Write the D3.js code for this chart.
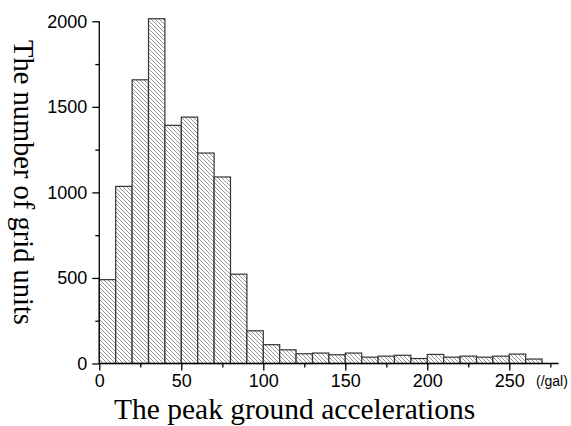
<!DOCTYPE html>
<html><head><meta charset="utf-8">
<script src="https://cdn.jsdelivr.net/npm/d3@7"></script>
<style>html,body{margin:0;padding:0;background:#fff;}svg{display:block;}</style>
</head><body>
<svg id="chart" width="571" height="426"></svg>
<script>
const binStarts = [0,10,20,30,40,50,60,70,80,90,100,110,120,130,140,150,160,170,180,190,200,210,220,230,240,250,260];
const binWidth = 10;
const counts = [490,1035,1658,2015,1392,1440,1230,1090,522,191,110,80,57,61,51,61,37,43,48,29,53,37,43,37,43,55,26];
const xMajorTicks = [0,50,100,150,200,250];
const xMinorTicks = [25,75,125,175,225,275];
const yMajorTicks = [0,500,1000,1500,2000];
const yMinorTicks = [250,750,1250,1750];
const xTitle = "The peak ground accelerations";
const yTitle = "The number of grid units";
const unitLabel = "(/gal)";

const svg = d3.select("#chart");
const x = d3.scaleLinear().domain([0,280]).range([99.3,558.5]);
const y = d3.scaleLinear().domain([0,2000]).range([363.5,21.3]);

const defs = svg.append("defs");
const pat = defs.append("pattern").attr("id","hatch").attr("patternUnits","userSpaceOnUse")
  .attr("width",4).attr("height",4);
pat.append("rect").attr("width",4).attr("height",4).attr("fill","#fff");
pat.append("path").attr("d","M0,0L4,4M-1,3L1,5M3,-1L5,1")
  .attr("stroke","#6a6a6a").attr("stroke-width",0.7).attr("fill","none");

svg.append("g").selectAll("rect").data(counts).join("rect")
  .attr("x",(d,i)=>x(binStarts[i]))
  .attr("width",(d,i)=>x(binStarts[i]+binWidth)-x(binStarts[i]))
  .attr("y",d=>y(d))
  .attr("height",d=>y(0)-y(d))
  .attr("fill","url(#hatch)")
  .attr("stroke","#333").attr("stroke-width",1.2);

const font = "'Liberation Sans', Arial, sans-serif";
// x axis
const gx = svg.append("g").attr("transform",`translate(0,${y(0)})`);
gx.call(d3.axisBottom(x).tickValues(xMajorTicks).tickSize(7).tickPadding(4).tickFormat(d3.format("d")));
gx.append("g").call(d3.axisBottom(x).tickValues(xMinorTicks).tickSize(4).tickFormat(""))
  .select(".domain").remove();
gx.select(".domain").attr("d",`M${x(0)},0H${x(280)}`);
gx.selectAll("path,line").attr("stroke","#000").attr("stroke-width",1.3);
gx.selectAll("text").attr("font-family",font).attr("font-size",18).attr("fill","#000");

// y axis
const gy = svg.append("g").attr("transform",`translate(${x(0)},0)`);
gy.call(d3.axisLeft(y).tickValues(yMajorTicks).tickSize(7).tickPadding(5).tickFormat(d3.format("d")));
gy.append("g").call(d3.axisLeft(y).tickValues(yMinorTicks).tickSize(4).tickFormat(""))
  .select(".domain").remove();
gy.select(".domain").attr("d",`M0,${y(0)}V${y(2000)}`);
gy.selectAll("path,line").attr("stroke","#000").attr("stroke-width",1.3);
gy.selectAll("text").attr("font-family",font).attr("font-size",18).attr("fill","#000");

svg.append("text").attr("x",536).attr("y",386).attr("font-family",font).attr("font-size",14)
  .attr("fill","#000").text(unitLabel);

const serif = "'Liberation Serif', 'Times New Roman', serif";
svg.append("text").attr("x",114).attr("y",419).attr("font-family",serif).attr("font-size",29.5)
  .attr("fill","#000").text(xTitle);
svg.append("text").attr("transform","translate(14,40) rotate(90)").attr("font-family",serif)
  .attr("font-size",28.5).attr("fill","#000").text(yTitle);
</script>
</body></html>
